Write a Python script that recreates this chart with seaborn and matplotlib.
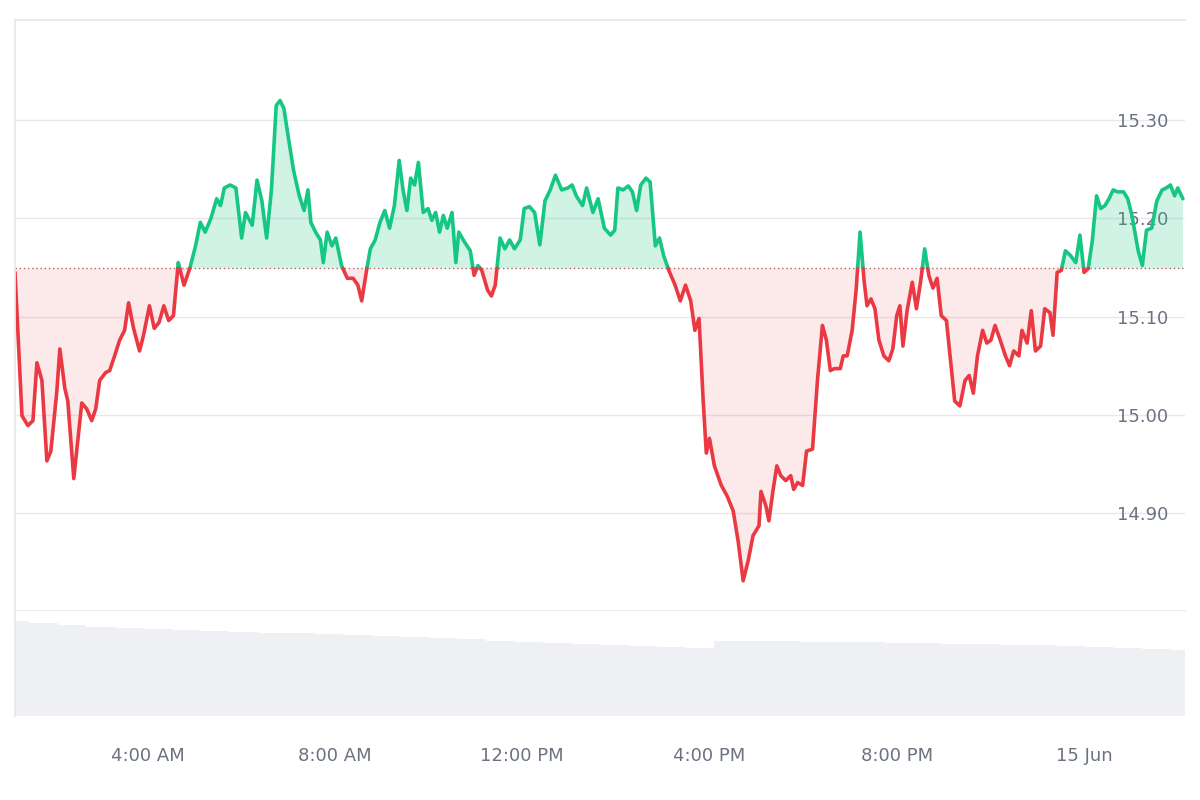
import numpy as np
import pandas as pd
import matplotlib
matplotlib.use("Agg")
import matplotlib.pyplot as plt
import seaborn as sns

prices = [15.145,14.999,14.989,14.994,15.053,15.035,14.953,14.963,15.024,15.067,15.027,15.014,14.935,14.973,15.012,15.006,14.994,15.006,15.035,15.043,15.045,15.060,15.076,15.086,15.114,15.088,15.065,15.081,15.111,15.088,15.094,15.111,15.096,15.101,15.155,15.132,15.149,15.172,15.196,15.186,15.200,15.220,15.213,15.231,15.234,15.231,15.180,15.206,15.193,15.239,15.218,15.180,15.229,15.315,15.320,15.312,15.280,15.249,15.223,15.208,15.229,15.196,15.186,15.178,15.155,15.186,15.172,15.180,15.152,15.139,15.139,15.132,15.116,15.147,15.169,15.178,15.196,15.208,15.190,15.213,15.259,15.229,15.208,15.241,15.234,15.257,15.206,15.210,15.198,15.206,15.186,15.203,15.190,15.206,15.155,15.186,15.176,15.167,15.142,15.152,15.147,15.127,15.121,15.132,15.180,15.169,15.178,15.169,15.178,15.210,15.212,15.206,15.173,15.218,15.229,15.244,15.229,15.231,15.234,15.223,15.213,15.231,15.206,15.220,15.190,15.183,15.188,15.231,15.229,15.233,15.227,15.208,15.234,15.241,15.237,15.172,15.180,15.162,15.147,15.132,15.116,15.132,15.116,15.086,15.098,15.014,14.961,14.976,14.948,14.928,14.917,14.902,14.871,14.831,14.851,14.877,14.887,14.922,14.907,14.892,14.922,14.948,14.938,14.933,14.938,14.924,14.931,14.928,14.963,14.965,15.035,15.091,15.076,15.045,15.047,15.047,15.060,15.060,15.086,15.127,15.186,15.137,15.111,15.118,15.108,15.076,15.060,15.055,15.067,15.101,15.111,15.070,15.106,15.135,15.108,15.135,15.169,15.142,15.129,15.139,15.101,15.096,15.055,15.014,15.009,15.035,15.040,15.022,15.060,15.086,15.073,15.076,15.091,15.076,15.060,15.050,15.065,15.060,15.086,15.073,15.106,15.065,15.070,15.108,15.104,15.081,15.145,15.147,15.167,15.162,15.155,15.183,15.145,15.149,15.178,15.223,15.210,15.213,15.220,15.229,15.227,15.227,15.220,15.203,15.167,15.152,15.188,15.190,15.218,15.229,15.231,15.234,15.223,15.231,15.220]
obs_pos = [15,22,28,33,37,42,47,51,57,60,65,68,74,78,82,87,92,96,100,106,110,115,120,125,129,134,140,144,150,155,160,165,170,175,180,186,192,198,203,208,214,220,224,228,234,240,246,250,257,262,267,272,277,282,286,290,295,300,306,311,315,318,323,328,331,335,340,344,350,356,362,367,371,376,380,385,390,395,400,405,410,414,418,422,426,430,435,440,444,448,452,456,460,465,469,472,478,484,488,492,496,502,506,510,515,520,525,530,536,540,545,550,555,560,565,570,576,582,586,590,596,600,606,611,617,623,627,630,635,640,644,648,652,657,661,666,670,674,679,685,690,695,700,704,708,712,715,718,723,730,736,742,747,752,757,762,768,770,775,778,782,786,790,795,800,803,807,812,816,822,827,832,836,840,844,850,853,857,862,866,870,874,877,881,885,889,894,899,903,907,910,913,917,922,926,930,934,938,942,946,950,955,959,963,968,973,977,981,985,990,994,998,1002,1007,1012,1016,1020,1025,1028,1033,1037,1041,1046,1050,1055,1058,1062,1066,1070,1075,1080,1084,1088,1092,1096,1100,1104,1108,1112,1116,1120,1126,1130,1134,1140,1144,1148,1153,1158,1163,1167,1171,1175,1178,1183]
label_pos = [148, 343, 538, 718, 907, 1088]
x_ticks = [4, 8, 12, 16, 20, 24]
x_labels = ["4:00 AM", "8:00 AM", "12:00 PM", "4:00 PM", "8:00 PM", "15 Jun"]
baseline = 15.149
volume = [91,89,87,85,84,83,82,81,80,79,79,78,77,76,75,74,73,72,71,70,69,68,67,66,65,72,72,72,71,71,71,70,70,69,69,68,68,67,66,65,64,63]
price_ticks = [14.90, 15.00, 15.10, 15.20, 15.30]

def to_hours(pos):
    pos = np.asarray(pos, float)
    h = np.interp(pos, label_pos, x_ticks)
    lo = pos < label_pos[0]; hi = pos > label_pos[-1]
    h[lo] = 4 - (label_pos[0] - pos[lo]) / 47.0
    h[hi] = 24 + (pos[hi] - label_pos[-1]) / 45.0
    return h

GREEN, RED = "#16c784", "#ea3943"
t = to_hours(obs_pos)
p = np.array(prices)
start_hour, end_hour = to_hours([15, 1185])

tt, pp = [t[0]], [p[0]]
for i in range(1, len(p)):
    a, b = p[i-1] - baseline, p[i] - baseline
    if a * b < 0:
        f = a / (a - b)
        tt.append(t[i-1] + f * (t[i] - t[i-1])); pp.append(baseline)
    tt.append(t[i]); pp.append(p[i])
tt, pp = np.array(tt), np.array(pp)
up = np.where(pp >= baseline - 1e-9, pp, np.nan)
down = np.where(pp <= baseline + 1e-9, pp, np.nan)

sns.set_theme(style="white")
fig = plt.figure(figsize=(12, 8), dpi=100)
ax = fig.add_axes([0.0125, 0.236, 0.975, 0.739])
axv = fig.add_axes([0.0125, 0.105, 0.975, 0.131], sharex=ax)

ax.fill_between(tt, pp, baseline, where=pp >= baseline, color=GREEN, alpha=0.2, lw=0, interpolate=True)
ax.fill_between(tt, pp, baseline, where=pp <= baseline, color=RED, alpha=0.11, lw=0, interpolate=True)
ax.plot(tt, up, color=GREEN, lw=2.6, solid_joinstyle="round")
ax.plot(tt, down, color=RED, lw=2.6, solid_joinstyle="round")
ax.axhline(baseline, color="#c0646a", lw=1, ls=(0, (1, 2)))

ax.set_xlim(start_hour, end_hour)
ax.set_ylim(14.80, 15.402)
ax.set_yticks(price_ticks)
ax.set_yticklabels([f"{v:.2f}" for v in price_ticks])
ax.yaxis.tick_right()
ax.tick_params(axis="y", length=0, pad=-12, labelsize=13, colors="#6b7280")
for lbl in ax.get_yticklabels():
    lbl.set_horizontalalignment("right")
ax.grid(axis="y", color="#e6e8ec", lw=1)
ax.tick_params(axis="x", bottom=False, labelbottom=False)
for s in ax.spines.values():
    s.set_visible(False)
for k in ("top", "left", "bottom"):
    ax.spines[k].set_visible(True); ax.spines[k].set_color("#e6e8ec")

tv = np.linspace(start_hour, end_hour, len(volume))
axv.fill_between(tv, volume, 0, color="#eef0f3", lw=0, step="mid")
axv.set_ylim(0, 100)
axv.set_yticks([])
axv.set_xticks(x_ticks)
axv.set_xticklabels(x_labels)
axv.tick_params(axis="x", length=0, pad=22, labelsize=13, colors="#6b7280")
for s in axv.spines.values():
    s.set_visible(False)
axv.spines["left"].set_visible(True); axv.spines["left"].set_color("#e6e8ec")

fig.savefig("out.png", dpi=100, facecolor="white")
